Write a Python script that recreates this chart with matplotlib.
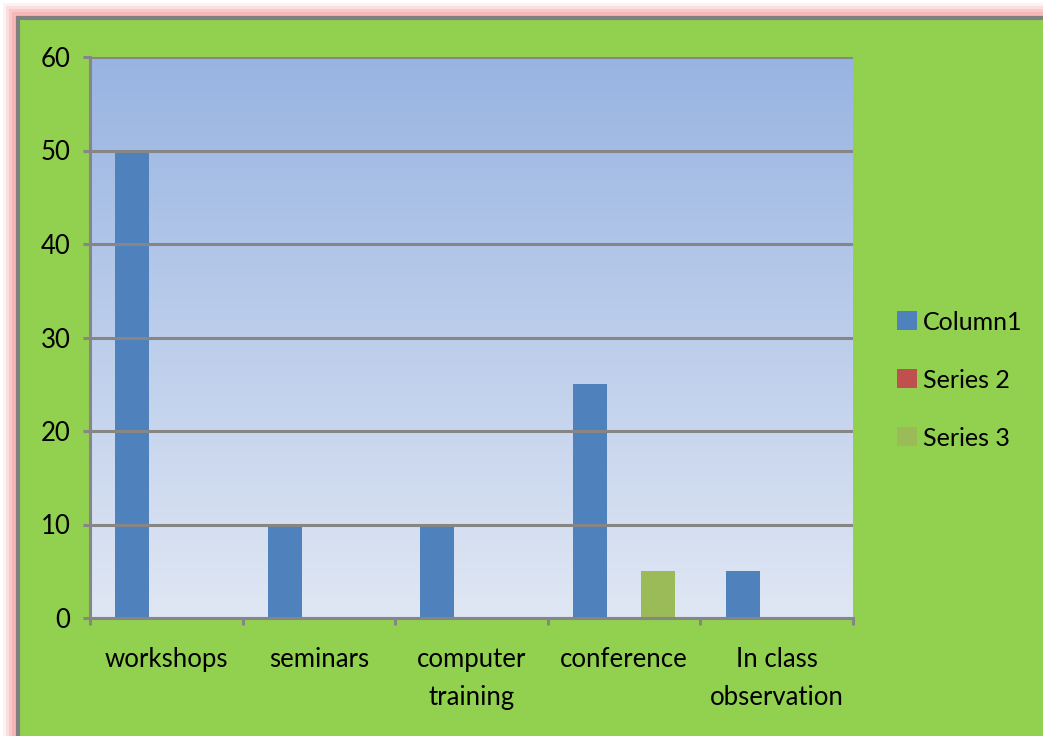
import numpy as np
import matplotlib
matplotlib.use('Agg')
import matplotlib.pyplot as plt
from matplotlib.patches import Rectangle
from matplotlib.colors import LinearSegmentedColormap

categories = ['workshops', 'seminars', 'computer\ntraining', 'conference', 'In class\nobservation']
column1 = [50, 10, 10, 25, 5]
series2 = [0, 0, 0, 0, 0]
series3 = [0, 0, 0, 5, 0]
yticks = [0, 10, 20, 30, 40, 50, 60]

plt.rcParams['font.family'] = ['Lato', 'DejaVu Sans']

fig = plt.figure(figsize=(10.43, 7.36), dpi=100)
fig.patch.set_facecolor('white')

W, H = 1043.0, 736.0
# pink glow round the top/left edge
for i, a in enumerate([0.15, 0.25, 0.35, 0.5]):
    off = 14 - i * 3
    fig.patches.append(Rectangle(((17 - off) / W, -0.1), 1.2, (H - 17 + off) / H + 0.1,
                                 transform=fig.transFigure, facecolor='#f4a6a6',
                                 alpha=a, edgecolor='none', zorder=-3))
# green chart area with gray border
fig.patches.append(Rectangle((18 / W, -0.1), 1.2, (H - 18) / H + 0.1, transform=fig.transFigure,
                             facecolor='#92d050', edgecolor='#808080', linewidth=3, zorder=-2))

ax = fig.add_axes([90 / W, 1 - 618 / H, (853 - 90) / W, (618 - 57) / H])
ax.set_facecolor('none')

# gradient fill of plot area
cmap = LinearSegmentedColormap.from_list('bg', ['#e0e7f4', '#98b4e2'])
grad = np.linspace(0, 1, 256).reshape(-1, 1)
ax.imshow(grad, extent=[-0.5, 4.5, 0, 60], origin='lower', aspect='auto', cmap=cmap, zorder=0)

x = np.arange(len(categories))
w = 0.223
ax.bar(x - w, column1, w, color='#4f81bd', label='Column1', zorder=2)
ax.bar(x, series2, w, color='#c0504d', label='Series 2', zorder=2)
ax.bar(x + w, series3, w, color='#9bbb59', label='Series 3', zorder=2)

ax.set_xlim(-0.5, 4.5)
ax.set_ylim(0, 60)
ax.set_yticks(yticks)
ax.yaxis.grid(True, color='#868686', linewidth=2.2, zorder=1)
ax.set_axisbelow(False)

ax.set_xticks(np.arange(-0.5, 5, 1))
ax.set_xticklabels([])
ax.set_xticks(x, minor=True)
ax.set_xticklabels(categories, minor=True, fontsize=18.5, linespacing=1.65)
ax.tick_params(axis='x', which='minor', length=0, pad=21)
ax.tick_params(axis='x', which='major', length=5, width=2.2, color='#868686')
ax.tick_params(axis='y', length=5, width=2.2, color='#868686', labelsize=18.5, pad=9)

for s in ['top', 'right']:
    ax.spines[s].set_visible(False)
for s in ['left', 'bottom']:
    ax.spines[s].set_color('#868686')
    ax.spines[s].set_linewidth(2.2)

leg = fig.legend(loc='center left', bbox_to_anchor=(874 / W, 1 - 380 / H), frameon=False,
                 fontsize=18, handlelength=0.8, handleheight=0.8, handletextpad=0.25,
                 labelspacing=1.4)

fig.savefig('out.png', dpi=100)
